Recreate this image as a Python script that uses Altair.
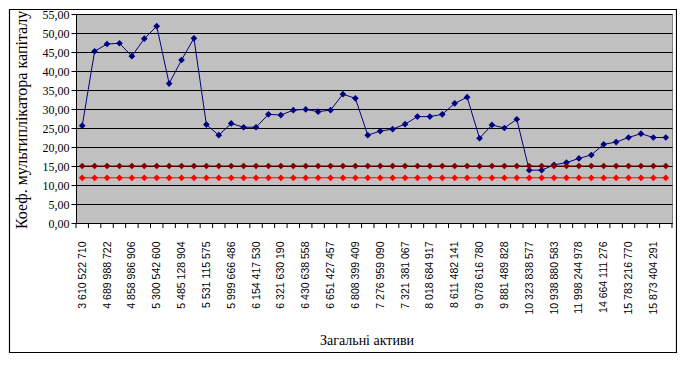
import altair as alt
import pandas as pd

# ---- data ----
x_labels = ["3 610 522 710", "4 689 988 722", "4 858 986 906", "5 300 542 600",
            "5 485 128 904", "5 531 115 575", "5 999 666 486", "6 154 417 530",
            "6 321 630 190", "6 430 638 558", "6 651 427 457", "6 808 399 409",
            "7 276 959 090", "7 321 381 067", "8 018 684 917", "8 611 482 141",
            "9 078 616 780", "9 881 489 828", "10 323 838 577", "10 938 880 583",
            "11 998 244 978", "14 664 111 276", "15 783 216 770", "15 873 404 291"]

multiplier = [25.6, 45.2, 47.1, 47.3, 43.9, 48.5, 51.8, 36.7, 42.9, 48.6,
              25.9, 23.1, 26.2, 25.2, 25.2, 28.6, 28.4, 29.7, 29.9, 29.3,
              29.7, 33.9, 32.8, 23.1, 24.2, 24.7, 26.0, 28.0, 28.0, 28.6,
              31.5, 33.1, 22.3, 25.8, 25.0, 27.3, 13.9, 13.9, 15.3, 15.9,
              17.0, 17.9, 20.7, 21.3, 22.5, 23.5, 22.5, 22.5]

upper_level = [15.0, 15.0, 15.0, 15.0, 15.0, 15.0, 15.0, 15.0, 15.0, 15.0,
               15.0, 15.0, 15.0, 15.0, 15.0, 15.0, 15.0, 15.0, 15.0, 15.0,
               15.0, 15.0, 15.0, 15.0, 15.0, 15.0, 15.0, 15.0, 15.0, 15.0,
               15.0, 15.0, 15.0, 15.0, 15.0, 15.0, 15.0, 15.0, 15.0, 15.0,
               15.0, 15.0, 15.0, 15.0, 15.0, 15.0, 15.0, 15.0]

lower_level = [11.9, 11.9, 11.9, 11.9, 11.9, 11.9, 11.9, 11.9, 11.9, 11.9,
               11.9, 11.9, 11.9, 11.9, 11.9, 11.9, 11.9, 11.9, 11.9, 11.9,
               11.9, 11.9, 11.9, 11.9, 11.9, 11.9, 11.9, 11.9, 11.9, 11.9,
               11.9, 11.9, 11.9, 11.9, 11.9, 11.9, 11.9, 11.9, 11.9, 11.9,
               11.9, 11.9, 11.9, 11.9, 11.9, 11.9, 11.9, 11.9]

y_ticks = [0, 5, 10, 15, 20, 25, 30, 35, 40, 45, 50, 55]
y_title = "Коеф.  мультиплікатора капіталу"
x_title = "Загальні активи"

# ---- build tables ----
n = len(multiplier)
idx = list(range(n))
label_idx = idx[::2]
df_blue = pd.DataFrame({"i": idx, "v": multiplier})
df_up = pd.DataFrame({"i": idx, "v": upper_level})
df_low = pd.DataFrame({"i": idx, "v": lower_level})
df_ticks = pd.DataFrame({"t": [k - 0.5 for k in range(n + 1)]})
one = pd.DataFrame({"a": [0]})

W, H = 596, 209
xscale = alt.Scale(domain=[-0.5, n - 0.5], nice=False, zero=False)
yscale = alt.Scale(domain=[0, 55], nice=False, zero=True)

label_array = "[" + ",".join("'" + s + "'" for s in x_labels) + "]"

x_axis = alt.Axis(values=label_idx, labelExpr=label_array + "[datum.value/2]",
                  labelAngle=270, labelFont="Liberation Sans", labelFontSize=10.5,
                  labelColor="black", labelPadding=18, ticks=False, grid=False,
                  domainColor="black", title=None, labelOverlap=False)
y_axis = alt.Axis(values=y_ticks, labelExpr="replace(format(datum.value, '.2f'), '.', ',')",
                  labelFont="Liberation Serif", labelFontSize=12, labelColor="black",
                  labelPadding=2, tickSize=5, tickColor="black", domainColor="black",
                  grid=True, gridColor="black", gridOpacity=1, title=None)


def series(df, color, size):
    base = alt.Chart(df).encode(
        x=alt.X("i:Q", scale=xscale, axis=x_axis),
        y=alt.Y("v:Q", scale=yscale, axis=y_axis),
    )
    return base.mark_line(color=color, strokeWidth=1) + base.mark_point(
        shape="diamond", filled=True, color=color, size=size, opacity=1)


# category boundary ticks below the x axis
ticks = alt.Chart(df_ticks).mark_rule(color="black", strokeWidth=1).encode(
    x=alt.X("t:Q", scale=xscale, axis=x_axis),
    y=alt.value(H), y2=alt.value(H + 5))

# outer chart frame
frame = alt.Chart(one).mark_rect(filled=False, stroke="black", strokeWidth=1.2).encode(
    x=alt.value(-66.5), x2=alt.value(600.5), y=alt.value(-4.5), y2=alt.value(338.5))

ytitle = alt.Chart(one).mark_text(
    text=y_title, font="Liberation Serif", fontSize=16, angle=270, align="left",
    baseline="middle", color="black").encode(x=alt.value(-54), y=alt.value(215))

xtitle = alt.Chart(one).mark_text(
    text=x_title, font="Liberation Serif", fontSize=14, align="center",
    baseline="middle", color="black").encode(x=alt.value(291), y=alt.value(327))

chart = alt.layer(
    series(df_blue, "#000080", 45),
    series(df_up, "#800000", 45),
    series(df_low, "#FF0000", 45),
    ticks,
    frame,
    ytitle,
    xtitle,
).properties(
    width=W, height=H,
    padding={"left": 68, "top": 6, "right": 5, "bottom": 131},
    autosize=alt.AutoSizeParams(type="none"),
    background="white",
).configure_view(
    fill="#C0C0C0", stroke="#808080", strokeWidth=1
)

chart.save("out.html", embed_options={"renderer": "svg", "actions": False})
